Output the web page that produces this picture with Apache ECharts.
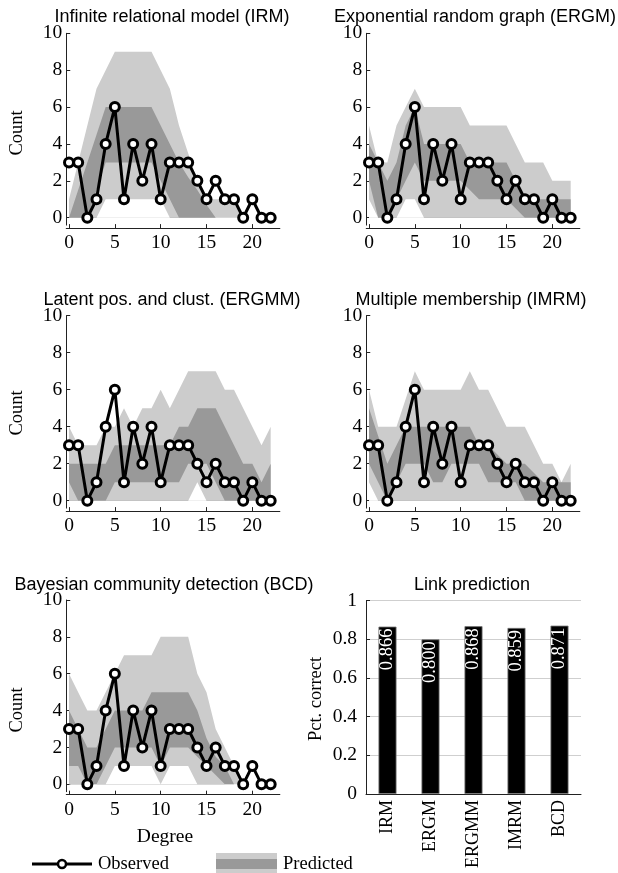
<!DOCTYPE html>
<html>
<head>
<meta charset="utf-8">
<script src="https://cdn.jsdelivr.net/npm/echarts@6/dist/echarts.min.js"></script>
<style>
html,body{margin:0;padding:0;background:#fff;}
#chart{width:618px;height:873px;}
</style>
</head>
<body>
<div id="chart"></div>
<script>
// ---- data ----
const degree = [0,1,2,3,4,5,6,7,8,9,10,11,12,13,14,15,16,17,18,19,20,21,22];
const observed = [3,3,0,1,4,6,1,4,2,4,1,3,3,3,2,1,2,1,1,0,1,0,0];
const degreeTicks = [0,5,10,15,20];
const countTicks = [0,2,4,6,8,10];

const panelTitles = ["Infinite relational model (IRM)","Exponential random graph (ERGM)","Latent pos. and clust. (ERGMM)","Multiple membership (IMRM)","Bayesian community detection (BCD)"];

// predicted bands: outer low, inner low, inner high, outer high
const irmOuterLo = [0,0,0,0,1,1,1,1,1,1,1,0,0,0,0,0,0,0,0,0,0,0,0];
const irmInnerLo = [0,0,0,1.5,3,3,3,3,3,3,2,1,0,0,0,0,0,0,0,0,0,0,0];
const irmInnerHi = [0,1.5,3,4.5,6,6,6,6,6,6,5,4,3,2.2,1.5,0.7,0,0,0,0,0,0,0];
const irmOuterHi = [1,3,5,7,8,9,9,9,9,9,8,7,5,3.5,2,1,1,1,1,0,0,0,0];

const ergmOuterLo = [1,0,0,0,1,1,0,0,0,0,0,0,0,0,0,0,0,0,0,0,0,0,0];
const ergmInnerLo = [2,0,0,1,2,3,2,2,2,2,2,1.5,1,1,1,1,0.5,0,0,0,0,0,0];
const ergmInnerHi = [4,3,2,3,5,6,4,4,4,4,4,3,3,3,3,3,2,1,1,1,1,1,1];
const ergmOuterHi = [5,3,3,5,6,7,6,6,6,6,6,5,5,5,5,5,4,3,3,3,2,2,2];

const ergmmOuterLo = [0,0,0,0,0,0,0,0,0,0,0,0,0,0,1,0,0,0,0,0,0,0,0];
const ergmmInnerLo = [1,0,0,0,0,1,1,1,1,1,1,1,1,2,2,2,1,0,0,0,0,0,0];
const ergmmInnerHi = [2,2,2,2,2,3,3,3,3,3,3,3,4,4,5,5,5,4,3,2,2,1,2];
const ergmmOuterHi = [4,3,3,3,4,4,5,4,5,5,6,5,6,7,7,7,7,6,6,5,4,3,4];

const imrmOuterLo = [1,0,0,0,0,0,0,0,0,0,0,0,0,0,0,0,0,0,0,0,0,0,0];
const imrmInnerLo = [2,1,0,1,2,2,2,1,1,2,2,2,2,1,1,1,1,0,0,0,0,0,0];
const imrmInnerHi = [5,3.5,2,3,4,4,4,4,4,4,4,4,3,3,2.5,2,2,2,1.5,1,1,1,1];
const imrmOuterHi = [6,4,4,4,5.5,7,6,6,6,6,6,7,6,6,5,4,4,4,3,2,2,1,2];

const bcdOuterLo = [0,0,0,0,0,1,1,1,1,1,0,1,1,1,0,0,0,0,0,0,0,0,0];
const bcdInnerLo = [1,1,0,0,1,2,2,2,2,2,1,2,2,2,1.5,1,0.5,0,0,0,0,0,0];
const bcdInnerHi = [4,3,2,2,3,4,4,4,4,5,5,5,5,5,4,2.5,1.5,1,0,0,0,0,0];
const bcdOuterHi = [6,5,4,4,5,6,7,7,7,7,8,8,8,8,6,5,3,2,1,0,0,0,0];

const linkModels = ["IRM","ERGM","ERGMM","IMRM","BCD"];
const linkAccuracy = [0.866,0.800,0.868,0.859,0.871];

// ---- layout / style ----
const LIGHT = '#cccccc', DARK = '#999999';
const SERIF = '"Liberation Serif","DejaVu Serif",serif';
const SANS = '"Liberation Sans",Arial,sans-serif';

const bands = [
  [irmOuterLo, irmInnerLo, irmInnerHi, irmOuterHi],
  [ergmOuterLo, ergmInnerLo, ergmInnerHi, ergmOuterHi],
  [ergmmOuterLo, ergmmInnerLo, ergmmInnerHi, ergmmOuterHi],
  [imrmOuterLo, imrmInnerLo, imrmInnerHi, imrmOuterHi],
  [bcdOuterLo, bcdInnerLo, bcdInnerHi, bcdOuterHi]
];

const lineGrids = [
  {left: 66.25, top: 33.3, width: 213.6, height: 191.8},
  {left: 366.25, top: 33.3, width: 213.6, height: 191.8},
  {left: 66.25, top: 315.7, width: 213.6, height: 192.4},
  {left: 366.25, top: 315.7, width: 213.6, height: 192.4},
  {left: 66.25, top: 600, width: 213.6, height: 191.7}
];
const barGrid = {left: 366, top: 600.7, width: 215, height: 193.3};

const grids = [], xAxes = [], yAxes = [], series = [], graphics = [];
const pair = arr => degree.map((d, i) => [d, arr[i]]);

lineGrids.forEach((g, gi) => {
  grids.push(g);
  xAxes.push({
    gridIndex: gi, type: 'value', min: -0.3, max: 23, offset: 3,
    axisLine: {show: true, onZero: false, lineStyle: {color: '#222', width: 1}},
    axisTick: {show: true, inside: true, length: 4, customValues: degreeTicks, lineStyle: {color: '#222'}},
    axisLabel: {customValues: degreeTicks, fontFamily: SERIF, fontSize: 19.5, color: '#000', margin: 5},
    splitLine: {show: false}
  });
  yAxes.push({
    gridIndex: gi, type: 'value', min: -0.4, max: 10,
    axisLine: {show: true, onZero: false, lineStyle: {color: '#222', width: 1}},
    axisTick: {show: true, inside: true, length: 4, customValues: countTicks, lineStyle: {color: '#222'}},
    axisLabel: {customValues: countTicks, fontFamily: SERIF, fontSize: 19.5, color: '#000', margin: 4},
    splitLine: {show: false}
  });
  const [oL, iL, iU, oU] = bands[gi];
  const layers = [[oU, LIGHT], [iU, DARK], [iL, LIGHT], [oL, '#ffffff']];
  layers.forEach(([arr, col], li) => {
    series.push({
      type: 'line', xAxisIndex: gi, yAxisIndex: gi, data: pair(arr),
      showSymbol: false, symbol: 'none', silent: true, z: 1 + li,
      lineStyle: {width: 0, opacity: 0},
      areaStyle: {color: col, opacity: 1}
    });
  });
  series.push({
    type: 'line', xAxisIndex: gi, yAxisIndex: gi, data: pair(observed), z: 10,
    symbol: 'circle', symbolSize: 9, showSymbol: true,
    lineStyle: {color: '#000', width: 3},
    itemStyle: {color: '#fff', borderColor: '#000', borderWidth: 3}
  });
});

// bar panel
grids.push(barGrid);
xAxes.push({
  gridIndex: 5, type: 'category', data: linkModels,
  axisLine: {show: true, onZero: false, lineStyle: {color: '#222', width: 1}},
  axisTick: {show: false},
  axisLabel: {rotate: 90, fontFamily: SERIF, fontSize: 18, color: '#000', margin: 6}
});
yAxes.push({
  gridIndex: 5, type: 'value', min: 0, max: 1, interval: 0.2,
  axisLine: {show: true, lineStyle: {color: '#222', width: 1}},
  axisTick: {show: true, inside: true, length: 4, lineStyle: {color: '#222'}},
  axisLabel: {fontFamily: SERIF, fontSize: 19.5, color: '#000', margin: 9,
    formatter: v => (v === 0 ? '0' : v === 1 ? '1' : v.toFixed(1))},
  splitLine: {show: true, lineStyle: {color: '#cfcfcf', width: 1.2}}
});
series.push({
  type: 'bar', xAxisIndex: 5, yAxisIndex: 5, data: linkAccuracy, barWidth: 18,
  itemStyle: {color: '#000', borderColor: '#777', borderWidth: 0.8},
  label: {show: true, position: 'insideTop', rotate: 90, align: 'right', verticalAlign: 'middle',
    distance: 2, color: '#fff', fontFamily: SERIF, fontSize: 18.5,
    formatter: p => p.value.toFixed(3)}
});

// titles
const titlePos = [[172, 17], [475, 17], [172, 300], [471, 300], [164, 585]];
panelTitles.forEach((t, i) => {
  graphics.push({type: 'text', x: titlePos[i][0], y: titlePos[i][1],
    style: {text: t, font: '18px ' + SANS, fill: '#000', align: 'center', verticalAlign: 'middle'}});
});
graphics.push({type: 'text', x: 472, y: 585,
  style: {text: 'Link prediction', font: '18px ' + SANS, fill: '#000', align: 'center', verticalAlign: 'middle'}});

// y-axis names
[[17, 133], [17, 413], [17, 710]].forEach(([x, y]) => {
  graphics.push({type: 'text', x: x, y: y, rotation: Math.PI / 2,
    style: {text: 'Count', font: '18.5px ' + SERIF, fill: '#000', align: 'center', verticalAlign: 'middle'}});
});
graphics.push({type: 'text', x: 316, y: 699, rotation: Math.PI / 2,
  style: {text: 'Pct. correct', font: '18.5px ' + SERIF, fill: '#000', align: 'center', verticalAlign: 'middle'}});
graphics.push({type: 'text', x: 165, y: 837,
  style: {text: 'Degree', font: '19.5px ' + SERIF, fill: '#000', align: 'center', verticalAlign: 'middle'}});

// legend
graphics.push({type: 'line', shape: {x1: 32, y1: 864, x2: 92, y2: 864}, style: {stroke: '#000', lineWidth: 3}});
graphics.push({type: 'circle', shape: {cx: 62, cy: 864, r: 4}, style: {fill: '#fff', stroke: '#000', lineWidth: 2.5}});
graphics.push({type: 'text', x: 98, y: 864,
  style: {text: 'Observed', font: '18.5px ' + SERIF, fill: '#000', align: 'left', verticalAlign: 'middle'}});
graphics.push({type: 'rect', shape: {x: 216, y: 853, width: 61, height: 20}, style: {fill: LIGHT}});
graphics.push({type: 'rect', shape: {x: 216, y: 859, width: 61, height: 10}, style: {fill: DARK}});
graphics.push({type: 'text', x: 283, y: 864,
  style: {text: 'Predicted', font: '18.5px ' + SERIF, fill: '#000', align: 'left', verticalAlign: 'middle'}});

const chart = echarts.init(document.getElementById('chart'), null, {renderer: 'canvas'});
chart.setOption({
  animation: false,
  backgroundColor: '#fff',
  grid: grids, xAxis: xAxes, yAxis: yAxes, series: series, graphic: graphics
});
</script>
</body>
</html>
